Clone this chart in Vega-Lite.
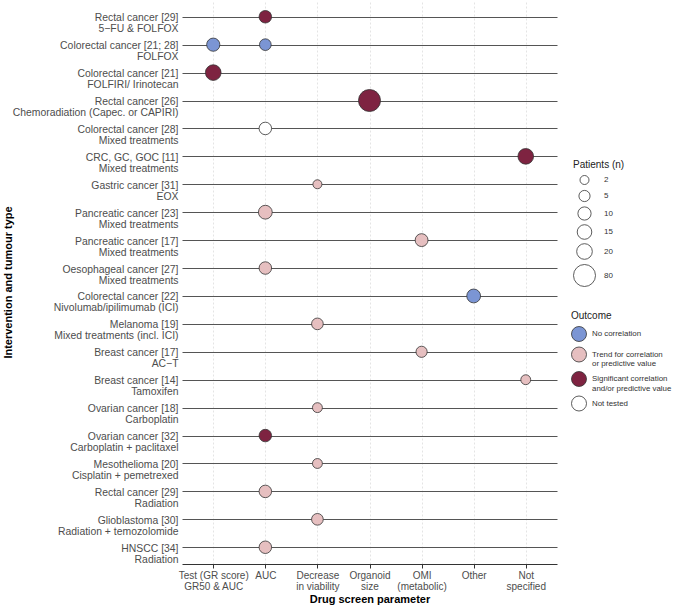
{
  "$schema": "https://vega.github.io/schema/vega-lite/v6.json",
  "autosize": "none",
  "width": 375,
  "height": 564,
  "padding": {"left": 182, "top": 0, "right": 117, "bottom": 41},
  "background": "white",
  "config": {
    "font": "Liberation Sans",
    "view": {"stroke": null}
  },
  "data": {
    "values": [
      {"study": "Rectal cancer [29]|5−FU & FOLFOX", "param": "AUC", "outcome": "Significant correlation|and/or predictive value", "n": 8},
      {"study": "Colorectal cancer [21; 28]|FOLFOX", "param": "Test (GR score)|GR50 & AUC", "outcome": "No correlation", "n": 10},
      {"study": "Colorectal cancer [21; 28]|FOLFOX", "param": "AUC", "outcome": "No correlation", "n": 6},
      {"study": "Colorectal cancer [21]|FOLFIRI/ Irinotecan", "param": "Test (GR score)|GR50 & AUC", "outcome": "Significant correlation|and/or predictive value", "n": 20},
      {"study": "Rectal cancer [26]|Chemoradiation (Capec. or CAPIRI)", "param": "Organoid|size", "outcome": "Significant correlation|and/or predictive value", "n": 80},
      {"study": "Colorectal cancer [28]|Mixed treatments", "param": "AUC", "outcome": "Not tested", "n": 8},
      {"study": "CRC, GC, GOC [11]|Mixed treatments", "param": "Not|specified", "outcome": "Significant correlation|and/or predictive value", "n": 20},
      {"study": "Gastric cancer [31]|EOX", "param": "Decrease|in viability", "outcome": "Trend for correlation|or predictive value", "n": 2},
      {"study": "Pancreatic cancer [23]|Mixed treatments", "param": "AUC", "outcome": "Trend for correlation|or predictive value", "n": 12},
      {"study": "Pancreatic cancer [17]|Mixed treatments", "param": "OMI|(metabolic)", "outcome": "Trend for correlation|or predictive value", "n": 9},
      {"study": "Oesophageal cancer [27]|Mixed treatments", "param": "AUC", "outcome": "Trend for correlation|or predictive value", "n": 8},
      {"study": "Colorectal cancer [22]|Nivolumab/ipilimumab (ICI)", "param": "Other", "outcome": "No correlation", "n": 12},
      {"study": "Melanoma [19]|Mixed treatments (incl. ICI)", "param": "Decrease|in viability", "outcome": "Trend for correlation|or predictive value", "n": 6},
      {"study": "Breast cancer [17]|AC−T", "param": "OMI|(metabolic)", "outcome": "Trend for correlation|or predictive value", "n": 5},
      {"study": "Breast cancer [14]|Tamoxifen", "param": "Not|specified", "outcome": "Trend for correlation|or predictive value", "n": 3},
      {"study": "Ovarian cancer [18]|Carboplatin", "param": "Decrease|in viability", "outcome": "Trend for correlation|or predictive value", "n": 3},
      {"study": "Ovarian cancer [32]|Carboplatin + paclitaxel", "param": "AUC", "outcome": "Significant correlation|and/or predictive value", "n": 8},
      {"study": "Mesothelioma [20]|Cisplatin + pemetrexed", "param": "Decrease|in viability", "outcome": "Trend for correlation|or predictive value", "n": 3},
      {"study": "Rectal cancer [29]|Radiation", "param": "AUC", "outcome": "Trend for correlation|or predictive value", "n": 8},
      {"study": "Glioblastoma [30]|Radiation + temozolomide", "param": "Decrease|in viability", "outcome": "Trend for correlation|or predictive value", "n": 6},
      {"study": "HNSCC [34]|Radiation", "param": "AUC", "outcome": "Trend for correlation|or predictive value", "n": 8}
    ]
  },
  "mark": {"type": "circle", "opacity": 1, "stroke": "#333333", "strokeWidth": 0.8},
  "encoding": {
    "x": {
      "field": "param", "type": "nominal",
      "scale": {"type": "point", "padding": 0.6, "domain": ["Test (GR score)|GR50 & AUC", "AUC", "Decrease|in viability", "Organoid|size", "OMI|(metabolic)", "Other", "Not|specified"]},
      "axis": {
        "title": "Drug screen parameter",
        "titleFont": "Liberation Sans", "titleFontSize": 11, "titleFontWeight": "bold", "titleColor": "black", "titlePadding": 2,
        "labelExpr": "split(datum.label, '|')",
        "labelAngle": 0, "labelFontSize": 10, "labelColor": "#4D4D4D", "labelLineHeight": 11, "labelPadding": 2,
        "tickSize": 4, "tickColor": "#333333", "domainColor": "#333333",
        "grid": true, "gridColor": "#DDDDDD", "gridDash": [2, 2], "gridWidth": 0.8
      }
    },
    "y": {
      "field": "study", "type": "nominal", "sort": null,
      "scale": {"type": "point", "padding": 0.6},
      "axis": {
        "title": "Intervention and tumour type",
        "titleFontSize": 11, "titleFontWeight": "bold", "titleColor": "black",
        "titleX": -174, "titleY": 282, "titleBaseline": "middle",
        "labelExpr": "split(datum.label, '|')",
        "labelFontSize": 10.4, "labelColor": "#4D4D4D", "labelLineHeight": 11, "labelPadding": 4, "labelOffset": 1,
        "ticks": false, "domain": false,
        "grid": true, "gridColor": "#555555", "gridWidth": 1
      }
    },
    "size": {
      "field": "n", "type": "quantitative",
      "scale": {"type": "sqrt", "domain": [2, 80], "range": [81, 484], "zero": false},
      "legend": {
        "title": "Patients (n)", "orient": "none", "legendX": 391, "legendY": 160,
        "values": [2, 5, 10, 15, 20, 80],
        "titleFontSize": 10, "titleFontWeight": "normal", "titleColor": "#222222",
        "labelFontSize": 8, "labelColor": "#333333", "labelOffset": 8,
        "symbolFillColor": "white", "symbolStrokeColor": "#333333", "symbolStrokeWidth": 0.8,
        "rowPadding": 1, "symbolType": "circle"
      }
    },
    "fill": {
      "field": "outcome", "type": "nominal",
      "scale": {
        "domain": ["No correlation", "Trend for correlation|or predictive value", "Significant correlation|and/or predictive value", "Not tested"],
        "range": ["#7B95D4", "#E6BFC0", "#7E2341", "#FFFFFF"]
      },
      "legend": {
        "title": "Outcome", "orient": "none", "legendX": 389, "legendY": 311,
        "labelExpr": "split(datum.label, '|')",
        "titleFontSize": 10, "titleFontWeight": "normal", "titleColor": "#222222",
        "labelFontSize": 7.9, "labelColor": "#333333", "labelLineHeight": 8.5, "labelOffset": 5,
        "labelLimit": 200,
        "symbolSize": 225, "symbolStrokeColor": "#333333", "symbolStrokeWidth": 0.8, "symbolType": "circle",
        "rowPadding": 0.5
      }
    }
  }
}
